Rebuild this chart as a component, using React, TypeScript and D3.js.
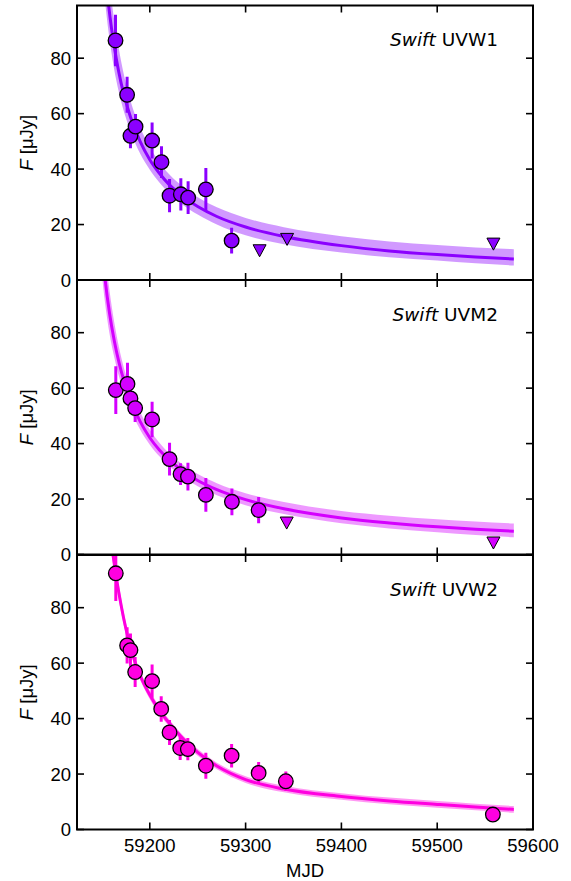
import React from "react";
import * as d3 from "d3";

// ---------- Data ----------
const xTicks = [59200, 59300, 59400, 59500, 59600];
const yTicks = [0, 20, 40, 60, 80];
const panelNames = ["UVW1", "UVM2", "UVW2"];
const panelColors = ["#8b00ff", "#d400ff", "#ff00e0"];

// UVW1 detections
const w1Mjd = [59164.2, 59176.3, 59179.8, 59185.1, 59202.4, 59212.2, 59220.6, 59232.4, 59240.0, 59258.5, 59285.4];
const w1Flux = [86.4, 66.8, 52.0, 55.3, 50.3, 42.5, 30.4, 30.9, 29.7, 32.7, 14.2];
const w1Err = [9.3, 6.5, 4.5, 4.6, 6.5, 5.7, 6.0, 5.8, 5.9, 7.7, 4.6];
const w1LimMjd = [59314.6, 59343.3, 59558.7];
const w1LimFlux = [10.6, 14.7, 13.0];

// UVM2 detections
const m2Mjd = [59164.5, 59176.7, 59179.8, 59184.7, 59202.4, 59220.6, 59232.1, 59239.8, 59258.5, 59285.7, 59313.6];
const m2Flux = [59.3, 61.5, 56.3, 52.8, 48.7, 34.4, 29.0, 28.1, 21.5, 19.0, 16.0];
const m2Err = [8.6, 7.7, 5.5, 5.0, 6.4, 5.9, 3.9, 5.0, 6.1, 4.8, 4.7];
const m2LimMjd = [59342.9, 59558.7];
const m2LimFlux = [11.4, 4.2];

// UVW2 detections
const w2Mjd = [59164.5, 59176.3, 59179.8, 59184.7, 59202.4, 59211.9, 59220.6, 59231.7, 59239.7, 59258.5, 59285.4, 59313.6, 59342.0, 59558.1];
const w2Flux = [92.4, 66.4, 64.7, 56.8, 53.5, 43.5, 35.0, 29.4, 29.0, 23.0, 26.6, 20.4, 17.4, 5.4];
const w2Err = [10, 6.5, 6, 5.4, 6, 4.6, 4.5, 4.3, 4, 4.7, 4.2, 3.9, 3.5, 1.0];
const w2LimMjd: number[] = [];
const w2LimFlux: number[] = [];

// Model curves (line + band)
const w1ModMjd = [59150, 59155, 59160, 59165, 59170, 59175, 59180, 59190, 59200, 59210, 59220, 59235, 59250, 59270, 59300, 59340, 59400, 59450, 59500, 59540, 59580];
const w1ModMid = [125.5, 105.4, 90.8, 79.8, 71.1, 64.3, 58.6, 49.9, 43.4, 38.5, 34.5, 30.0, 26.5, 22.9, 19.1, 15.7, 12.4, 10.5, 9.16, 8.3, 7.6];
const w1ModHi = [140, 118, 101, 89, 79, 71, 64.5, 55, 48, 42.5, 38.2, 33.5, 29.8, 26.2, 22.4, 19.0, 15.8, 13.9, 12.6, 11.7, 11.1];
const w1ModLo = [113, 95, 82, 72, 64.5, 58.5, 53.5, 45.5, 39.8, 35.2, 31.4, 27, 23.6, 20.0, 16.1, 12.9, 9.9, 8.2, 7.0, 6.0, 5.2];

const m2ModMjd = [59148, 59153, 59158, 59163, 59168, 59173, 59180, 59190, 59200, 59210, 59220, 59235, 59250, 59270, 59300, 59340, 59400, 59450, 59500, 59540, 59580];
const m2ModMid = [119, 100.3, 86.9, 76.9, 69.0, 62.6, 55.5, 47.9, 42.1, 37.7, 34.2, 30.0, 26.7, 23.4, 19.8, 16.5, 13.2, 11.4, 10.0, 9.12, 8.4];
const m2ModHi = [132, 110, 95, 83.5, 74.5, 67.3, 59.5, 51.3, 45, 40.3, 36.6, 32.3, 29.0, 25.7, 22.1, 18.9, 15.7, 14.0, 12.7, 11.9, 11.2];
const m2ModLo = [108, 91.5, 79.5, 71, 64, 58.3, 52, 45, 39.6, 35.4, 32.0, 27.9, 24.6, 21.4, 17.8, 14.6, 11.3, 9.4, 8.0, 7.0, 6.25];

const w2ModMjd = [59157, 59161, 59165, 59170, 59175, 59180, 59185, 59190, 59200, 59210, 59220, 59235, 59250, 59270, 59300, 59340, 59400, 59450, 59500, 59540, 59580];
const w2ModMid = [112, 100.5, 91, 81, 72.5, 65.5, 60, 55.5, 48.5, 43, 38.5, 32.6, 27.8, 22.9, 18.0, 14.6, 11.9, 10.3, 9.05, 8.1, 7.25];
const w2ModHi = [116.5, 104, 94, 83.6, 74.7, 67.4, 61.7, 57.1, 50, 44.4, 39.8, 33.85, 29.0, 24.1, 19.2, 15.8, 13.1, 11.5, 10.25, 9.3, 8.45];
const w2ModLo = [107.5, 97, 88, 78.4, 70.3, 63.6, 58.3, 53.9, 47, 41.6, 37.2, 31.35, 26.6, 21.7, 16.8, 13.4, 10.7, 9.1, 7.85, 6.9, 6.05];

const panels = [
  { mjd: w1Mjd, flux: w1Flux, err: w1Err, limMjd: w1LimMjd, limFlux: w1LimFlux, modMjd: w1ModMjd, mid: w1ModMid, hi: w1ModHi, lo: w1ModLo },
  { mjd: m2Mjd, flux: m2Flux, err: m2Err, limMjd: m2LimMjd, limFlux: m2LimFlux, modMjd: m2ModMjd, mid: m2ModMid, hi: m2ModHi, lo: m2ModLo },
  { mjd: w2Mjd, flux: w2Flux, err: w2Err, limMjd: w2LimMjd, limFlux: w2LimFlux, modMjd: w2ModMjd, mid: w2ModMid, hi: w2ModHi, lo: w2ModLo },
];

// ---------- Layout ----------
const W = 571;
const H = 881;
const LEFT = 77;
const RIGHT = 533;
const TOPS = [5.5, 280, 555];
const PH = 274.5;
const TICK = 7;
const FONT = "'Liberation Sans', Arial, Helvetica, sans-serif";
const TFONT = "'DejaVu Sans', sans-serif";

const x = d3.scaleLinear().domain([59124, 59600]).range([LEFT, RIGHT]);

function Panel({ i }: { i: number }) {
  const p = panels[i];
  const color = panelColors[i];
  const top = TOPS[i];
  const bottom = top + PH;
  const y = d3.scaleLinear().domain([0, 99]).range([bottom, top]);
  const idx = p.modMjd.map((_, k) => k);
  const area = d3
    .area<number>()
    .x((k) => x(p.modMjd[k]))
    .y0((k) => y(p.lo[k]))
    .y1((k) => y(p.hi[k]))
    .curve(d3.curveMonotoneX);
  const line = d3
    .line<number>()
    .x((k) => x(p.modMjd[k]))
    .y((k) => y(p.mid[k]))
    .curve(d3.curveMonotoneX);
  const clipId = `clip${i}`;
  return (
    <g>
      <defs>
        <clipPath id={clipId}>
          <rect x={LEFT} y={top} width={RIGHT - LEFT} height={PH} />
        </clipPath>
      </defs>
      <g clipPath={`url(#${clipId})`}>
        <path d={area(idx) || ""} fill={color} fillOpacity={0.4} stroke="none" />
        <path d={line(idx) || ""} fill="none" stroke={color} strokeWidth={3} />
        {p.mjd.map((m, k) => (
          <line
            key={`e${k}`}
            x1={x(m)}
            x2={x(m)}
            y1={y(p.flux[k] - p.err[k])}
            y2={y(p.flux[k] + p.err[k])}
            stroke={color}
            strokeWidth={3}
          />
        ))}
        {p.mjd.map((m, k) => (
          <circle key={`c${k}`} cx={x(m)} cy={y(p.flux[k])} r={7.3} fill={color} stroke="#000" strokeWidth={1.3} />
        ))}
        {p.limMjd.map((m, k) => {
          const cx = x(m);
          const cy = y(p.limFlux[k]);
          const s = 6.5;
          return (
            <path
              key={`t${k}`}
              d={`M${cx - s},${cy - s * 0.9}L${cx + s},${cy - s * 0.9}L${cx},${cy + s * 0.95}Z`}
              fill={color}
              stroke="#000"
              strokeWidth={1}
              strokeLinejoin="miter"
            />
          );
        })}
      </g>
      {xTicks.map((t) => (
        <g key={`xt${t}`}>
          <line x1={x(t)} x2={x(t)} y1={bottom} y2={bottom - TICK} stroke="#000" strokeWidth={1.6} />
          <line x1={x(t)} x2={x(t)} y1={top} y2={top + TICK} stroke="#000" strokeWidth={1.6} />
        </g>
      ))}
      {yTicks.map((t) => (
        <g key={`yt${t}`}>
          <line x1={LEFT} x2={LEFT + TICK} y1={y(t)} y2={y(t)} stroke="#000" strokeWidth={1.6} />
          <line x1={RIGHT} x2={RIGHT - TICK} y1={y(t)} y2={y(t)} stroke="#000" strokeWidth={1.6} />
          <text x={LEFT - 6} y={y(t)} dy="0.36em" textAnchor="end" fontFamily={FONT} fontSize={18.5} fill="#000">
            {t}
          </text>
        </g>
      ))}
      <rect x={LEFT} y={top} width={RIGHT - LEFT} height={PH} fill="none" stroke="#000" strokeWidth={2} />
      <text x={498} y={top + 40.5} textAnchor="end" fontFamily={TFONT} fontSize={18.5} fill="#000">
        <tspan fontStyle="italic">Swift</tspan> {panelNames[i]}
      </text>
      <text
        transform={`translate(33,${(top + bottom) / 2}) rotate(-90)`}
        textAnchor="middle"
        fontFamily={FONT}
        fontSize={18.5}
        fill="#000"
      >
        <tspan fontStyle="italic">F</tspan> [μJy]
      </text>
      {i === 2 &&
        xTicks.map((t) => (
          <text key={`xl${t}`} x={x(t)} y={bottom + 22.5} textAnchor="middle" fontFamily={FONT} fontSize={18.5} fill="#000">
            {t}
          </text>
        ))}
    </g>
  );
}

export default function App() {
  return (
    <svg
      width={W}
      height={H}
      viewBox={`0 0 ${W} ${H}`}
      style={{ position: "absolute", left: 0, top: 0, background: "#fff" }}
    >
      <rect x={0} y={0} width={W} height={H} fill="#fff" />
      {[0, 1, 2].map((i) => (
        <Panel key={i} i={i} />
      ))}
      <text x={(LEFT + RIGHT) / 2} y={877} textAnchor="middle" fontFamily={FONT} fontSize={18.5} fill="#000">
        MJD
      </text>
    </svg>
  );
}
